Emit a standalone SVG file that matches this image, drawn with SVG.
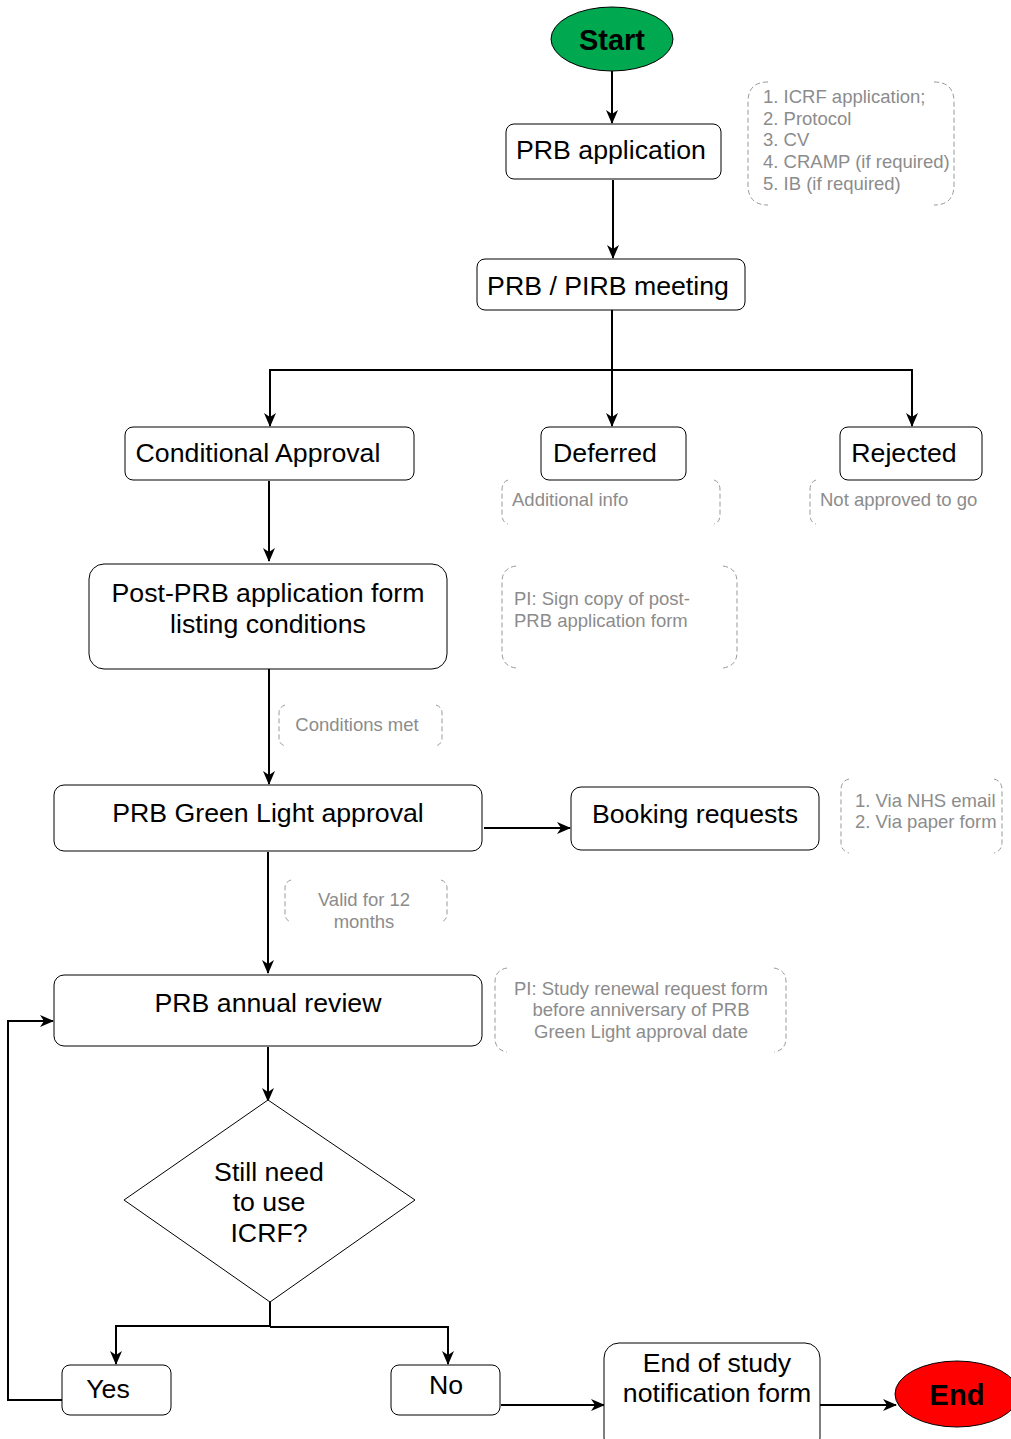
<svg xmlns="http://www.w3.org/2000/svg" width="1011" height="1439" viewBox="0 0 1011 1439">
<defs>
<marker id="arr" viewBox="0 0 14 12" refX="13" refY="6" markerWidth="14" markerHeight="12" markerUnits="userSpaceOnUse" orient="auto">
<path d="M0,0 L14,6 L0,12 L4,6 z" fill="#000"/>
</marker>
<style>
.box{fill:#fff;stroke:#000;stroke-width:1}
.t{font-family:"Liberation Sans",Arial,sans-serif;font-size:26.7px;fill:#000;text-anchor:middle}
.a{font-family:"Liberation Sans",Arial,sans-serif;font-size:18.5px;fill:#8c8c8c}
.br{fill:none;stroke:#999;stroke-width:1;stroke-dasharray:5,3}
.c{fill:none;stroke:#000;stroke-width:2}
.ca{fill:none;stroke:#000;stroke-width:2;marker-end:url(#arr)}
</style>
</defs>
<rect width="1011" height="1439" fill="#fff"/>

<g id="connectors">
<path class="ca" d="M612,71 V123"/>
<path class="ca" d="M613,180 V258"/>
<path class="c" d="M612,310 V370"/>
<path class="ca" d="M612,370 H270 V426"/>
<path class="ca" d="M612,370 V426"/>
<path class="ca" d="M612,370 H912 V426"/>
<path class="ca" d="M269,481 V561"/>
<path class="ca" d="M269,669 V784"/>
<path class="ca" d="M484,828 H570"/>
<path class="ca" d="M268,852 V973"/>
<path class="ca" d="M268,1047 V1101"/>
<path class="c" d="M270,1288 V1327"/>
<path class="ca" d="M270,1326 H116 V1364"/>
<path class="ca" d="M270,1327 H448 V1364"/>
<path class="ca" d="M62,1400 H8 V1021 H53"/>
<path class="ca" d="M501,1405 H604"/>
<path class="ca" d="M820,1405 H896"/>
</g>

<g id="start">
<ellipse cx="612" cy="39" rx="61" ry="32" fill="#00a84f" stroke="#000" stroke-width="1"/>
<text class="t" x="612" y="50" style="font-weight:bold;font-size:29px">Start</text>
</g>

<g id="prb-application">
<rect class="box" x="506" y="124" width="215" height="55" rx="8"/>
<text class="t" x="611" y="159">PRB application</text>
</g>

<g id="note-documents">
<path class="br" d="M768,82 Q748,82 748,102 V185 Q748,205 768,205"/>
<path class="br" d="M934,82 Q954,82 954,102 V185 Q954,205 934,205"/>
<text class="a" x="763" y="103">1. ICRF application;</text>
<text class="a" x="763" y="125">2. Protocol</text>
<text class="a" x="763" y="146">3. CV</text>
<text class="a" x="763" y="168">4. CRAMP (if required)</text>
<text class="a" x="763" y="190">5. IB (if required)</text>
</g>

<g id="prb-meeting">
<rect class="box" x="477" y="259" width="268" height="51" rx="8"/>
<text class="t" x="608" y="295">PRB / PIRB meeting</text>
</g>

<g id="conditional-approval">
<rect class="box" x="125" y="427" width="289" height="53" rx="8"/>
<text class="t" x="258" y="462">Conditional Approval</text>
</g>

<g id="deferred">
<rect class="box" x="541" y="427" width="145" height="53" rx="8"/>
<text class="t" x="605" y="462">Deferred</text>
</g>

<g id="note-deferred">
<path class="br" d="M508,480 Q502,482 502,490 V515 Q502,522 508,524"/>
<path class="br" d="M714,480 Q720,482 720,490 V515 Q720,522 714,524"/>
<text class="a" x="512" y="506">Additional info</text>
</g>

<g id="rejected">
<rect class="box" x="840" y="427" width="142" height="53" rx="8"/>
<text class="t" x="904" y="462">Rejected</text>
</g>

<g id="note-rejected">
<path class="br" d="M816,480 Q810,482 810,490 V515 Q810,522 816,524"/>
<text class="a" x="820" y="506">Not approved to go</text>
</g>

<g id="post-prb">
<rect class="box" x="89" y="564" width="358" height="105" rx="15"/>
<text class="t" x="268" y="602">Post-PRB application form</text>
<text class="t" x="268" y="633">listing conditions</text>
</g>

<g id="note-sign">
<path class="br" d="M516,566 Q502,568 502,582 V652 Q502,666 516,668"/>
<path class="br" d="M723,566 Q737,568 737,582 V652 Q737,666 723,668"/>
<text class="a" x="514" y="605">PI: Sign copy of post-</text>
<text class="a" x="514" y="627">PRB application form</text>
</g>

<g id="note-conditions">
<path class="br" d="M285,705 Q279,707 279,713 V738 Q279,744 285,746"/>
<path class="br" d="M436,705 Q442,707 442,713 V738 Q442,744 436,746"/>
<text class="a" x="357" y="731" text-anchor="middle">Conditions met</text>
</g>

<g id="green-light">
<rect class="box" x="54" y="785" width="428" height="66" rx="10"/>
<text class="t" x="268" y="822">PRB Green Light approval</text>
</g>

<g id="booking">
<rect class="box" x="571" y="787" width="248" height="63" rx="10"/>
<text class="t" x="695" y="823">Booking requests</text>
</g>

<g id="note-booking">
<path class="br" d="M849,779 Q841,781 841,790 V842 Q841,851 849,853"/>
<path class="br" d="M994,779 Q1002,781 1002,790 V842 Q1002,851 994,853"/>
<text class="a" x="855" y="807">1. Via NHS email</text>
<text class="a" x="855" y="828">2. Via paper form</text>
</g>

<g id="note-valid">
<path class="br" d="M291,880 Q285,882 285,888 V914 Q285,920 291,922"/>
<path class="br" d="M441,880 Q447,882 447,888 V914 Q447,920 441,922"/>
<text class="a" x="364" y="906" text-anchor="middle">Valid for 12</text>
<text class="a" x="364" y="928" text-anchor="middle">months</text>
</g>

<g id="annual-review">
<rect class="box" x="54" y="975" width="428" height="71" rx="10"/>
<text class="t" x="268" y="1012">PRB annual review</text>
</g>

<g id="note-renewal">
<path class="br" d="M507,968 Q495,970 495,982 V1038 Q495,1050 507,1052"/>
<path class="br" d="M774,968 Q786,970 786,982 V1038 Q786,1050 774,1052"/>
<text class="a" x="641" y="995" text-anchor="middle">PI: Study renewal request form</text>
<text class="a" x="641" y="1016" text-anchor="middle">before anniversary of PRB</text>
<text class="a" x="641" y="1038" text-anchor="middle">Green Light approval date</text>
</g>

<g id="decision">
<path d="M268,1100 L415,1200 L270,1302 L124,1200 Z" fill="#fff" stroke="#000" stroke-width="1"/>
<text class="t" x="269" y="1181">Still need</text>
<text class="t" x="269" y="1211">to use</text>
<text class="t" x="269" y="1242">ICRF?</text>
</g>

<g id="yes">
<rect class="box" x="62" y="1365" width="109" height="50" rx="8"/>
<text class="t" x="108" y="1398">Yes</text>
</g>

<g id="no">
<rect class="box" x="391" y="1365" width="109" height="50" rx="8"/>
<text class="t" x="446" y="1394">No</text>
</g>

<g id="end-of-study">
<rect class="box" x="604" y="1343" width="216" height="110" rx="15"/>
<text class="t" x="717" y="1372">End of study</text>
<text class="t" x="717" y="1402">notification form</text>
</g>

<g id="end">
<ellipse cx="957" cy="1394" rx="62" ry="33" fill="#ff0000" stroke="#000" stroke-width="1"/>
<text class="t" x="957" y="1405" style="font-weight:bold;font-size:29px">End</text>
</g>
</svg>
